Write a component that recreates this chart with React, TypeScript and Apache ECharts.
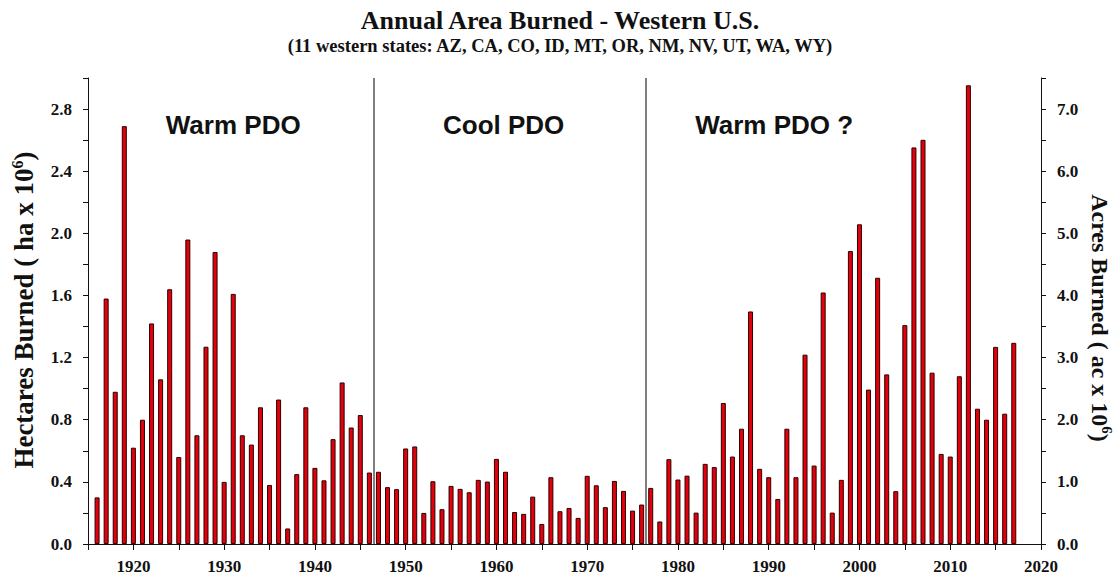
import React, { useEffect, useRef } from "react";
import * as echarts from "echarts";

const firstYear = 1916;
const lastYear = 2017;
const years: number[] = [];
for (let y = firstYear; y <= lastYear; y++) years.push(y);

// Hectares burned (millions), 1916-2017
const hectares: number[] = [
  0.30, 1.58, 0.98, 2.69, 0.62, 0.80, 1.42, 1.06, 1.64, 0.56,
  1.96, 0.70, 1.27, 1.88, 0.40, 1.61, 0.70, 0.64, 0.88, 0.38,
  0.93, 0.10, 0.45, 0.88, 0.49, 0.41, 0.675, 1.04, 0.75, 0.83,
  0.46, 0.465, 0.366, 0.353, 0.615, 0.628, 0.20, 0.404, 0.224, 0.374,
  0.355, 0.333, 0.413, 0.402, 0.548, 0.465, 0.206, 0.194, 0.305, 0.129,
  0.43, 0.211, 0.232, 0.168, 0.439, 0.378, 0.237, 0.406, 0.342, 0.215,
  0.254, 0.361, 0.145, 0.546, 0.415, 0.44, 0.202, 0.516, 0.495, 0.908,
  0.563, 0.742, 1.497, 0.484, 0.43, 0.29, 0.742, 0.43, 1.219, 0.505,
  1.619, 0.202, 0.413, 1.886, 2.058, 0.994, 1.714, 1.092, 0.34, 1.409,
  2.553, 2.602, 1.103, 0.58, 0.563, 1.08, 2.953, 0.871, 0.80, 1.269,
  0.839, 1.295,
];

const phaseBoundaries: number[] = [1946.5, 1976.5];
const phaseLabels: { text: string; year: number }[] = [
  { text: "Warm PDO", year: 1931.0 },
  { text: "Cool PDO", year: 1960.8 },
  { text: "Warm PDO ?", year: 1990.6 },
];

const titleText = "Annual Area Burned - Western U.S.";
const subtitleText = "(11 western states: AZ, CA, CO, ID, MT, OR, NM, NV, UT, WA, WY)";

const SERIF = '"Liberation Serif", "Times New Roman", serif';
const SANS = '"Liberation Sans", Arial, sans-serif';

export default function App() {
  const ref = useRef<HTMLDivElement>(null);
  useEffect(() => {
    if (!ref.current) return;
    const chart = echarts.init(ref.current, null, { renderer: "svg" });
    const grid = { left: 88, right: 79, top: 78, bottom: 42 };
    const axisLbl = {
      fontFamily: SERIF,
      fontWeight: "bold" as const,
      fontSize: 17,
      color: "#111",
    };
    const pxPerYear = (1120 - grid.left - grid.right) / (2020 - 1915);
    const option: any = {
      animation: false,
      backgroundColor: "#fff",
      title: {
        text: titleText,
        subtext: subtitleText,
        left: "center",
        top: 2,
        itemGap: 3,
        textStyle: { fontFamily: SERIF, fontWeight: "bold", fontSize: 26, color: "#111" },
        subtextStyle: { fontFamily: SERIF, fontWeight: "bold", fontSize: 18.5, color: "#111" },
      },
      grid: { ...grid, containLabel: false },
      xAxis: [
        {
          type: "value",
          min: 1915,
          max: 2020,
          interval: 5,
          position: "bottom",
          axisLine: { show: true, lineStyle: { color: "#111", width: 1 } },
          axisTick: { show: true, inside: false, length: 5, lineStyle: { color: "#111" } },
          axisLabel: {
            ...axisLbl,
            margin: 14,
            formatter: (v: number) => (v % 10 === 0 ? String(v) : ""),
          },
          splitLine: { show: false },
        },
        {
          type: "value",
          min: 1915,
          max: 2020,
          interval: 5,
          position: "top",
          axisLine: { show: true, lineStyle: { color: "#111", width: 1 } },
          axisTick: { show: true, inside: true, length: 6, lineStyle: { color: "#111" } },
          axisLabel: { show: false },
          splitLine: { show: false },
        },
      ],
      yAxis: [
        {
          type: "value",
          min: 0,
          max: 3.0,
          interval: 0.2,
          position: "left",
          axisLine: { show: true, lineStyle: { color: "#111", width: 1 } },
          axisTick: { show: true, inside: false, length: 5, lineStyle: { color: "#111" } },
          axisLabel: {
            ...axisLbl,
            margin: 16,
            formatter: (v: number) => (Math.round(v * 10) % 4 === 0 ? v.toFixed(1) : ""),
          },
          splitLine: { show: false },
        },
        {
          type: "value",
          min: 0,
          max: 7.5,
          interval: 0.5,
          position: "right",
          axisLine: { show: true, lineStyle: { color: "#111", width: 1 } },
          axisTick: { show: true, inside: false, length: 5, lineStyle: { color: "#111" } },
          axisLabel: {
            ...axisLbl,
            margin: 16,
            formatter: (v: number) => (Math.abs(v - Math.round(v)) < 1e-6 ? v.toFixed(1) : ""),
          },
          splitLine: { show: false },
        },
      ],
      series: [
        {
          type: "bar",
          xAxisIndex: 0,
          yAxisIndex: 0,
          data: years.map((y, i) => [y, hectares[i]]),
          barWidth: 5,
          itemStyle: { color: "#e3000b", borderColor: "#2a0000", borderWidth: 1 },
          markLine: {
            silent: true,
            symbol: ["none", "none"],
            label: { show: false },
            lineStyle: { color: "#555", width: 1.5, type: "solid" },
            data: phaseBoundaries.map((b) => ({ xAxis: b })),
          },
        },
      ],
      graphic: [
        ...phaseLabels.map((p) => ({
          type: "text",
          x: grid.left + (p.year - 1915) * pxPerYear,
          y: 125,
          style: {
            text: p.text,
            font: `bold 26px ${SANS}`,
            fill: "#111",
            align: "center",
            verticalAlign: "middle",
          },
        })),
        {
          type: "text",
          x: 24,
          y: 310,
          rotation: Math.PI / 2,
          style: {
            text: "{a|Hectares Burned ( ha x 10}{s|6}{a|)}",
            align: "center",
            verticalAlign: "middle",
            rich: {
              a: { font: `bold 27px ${SERIF}`, fill: "#111", lineHeight: 30 },
              s: { font: `bold 16px ${SERIF}`, fill: "#111", lineHeight: 17, verticalAlign: "top" },
            },
          },
        },
        {
          type: "text",
          x: 1100,
          y: 318,
          rotation: -Math.PI / 2,
          style: {
            text: "{a|Acres Burned ( ac x 10}{s|6}{a|)}",
            align: "center",
            verticalAlign: "middle",
            rich: {
              a: { font: `bold 24px ${SERIF}`, fill: "#111", lineHeight: 28 },
              s: { font: `bold 15px ${SERIF}`, fill: "#111", lineHeight: 16, verticalAlign: "top" },
            },
          },
        },
      ],
    };
    chart.setOption(option);
    return () => chart.dispose();
  }, []);
  return (
    <div
      ref={ref}
      style={{ position: "fixed", left: 0, top: 0, width: 1120, height: 586, background: "#fff" }}
    />
  );
}
